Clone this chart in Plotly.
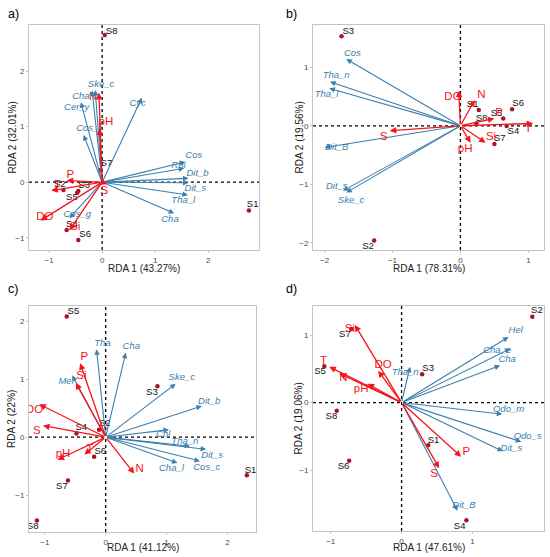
import plotly.graph_objects as go

# ---------------- Panel a ----------------
a_sp_names = ["Ske_c", "Cha", "Cer_y", "Cos_r", "Cyc", "Cos", "Rhi", "Dit_b", "Dit_s", "Tha_l", "Cha", "Cos_g"]
a_sp_x = [-0.13, -0.19, -0.40, -0.35, 0.75, 1.57, 1.55, 1.63, 1.63, 1.62, 1.36, -0.62]
a_sp_y = [1.66, 1.65, 1.44, 0.85, 1.52, 0.365, 0.25, 0.07, -0.01, -0.23, -0.56, -0.65]
a_sp_lx = [-0.02, -0.40, -0.48, -0.25, 0.67, 1.73, 1.44, 1.80, 1.76, 1.53, 1.28, -0.47]
a_sp_ly = [1.76, 1.54, 1.34, 0.96, 1.42, 0.48, 0.29, 0.16, -0.12, -0.34, -0.68, -0.59]
a_env_names = ["N", "pH", "P", "T", "DO", "Si", "S"]
a_env_x = [-0.06, -0.05, -0.67, -0.96, -1.16, -0.62, 0.10]
a_env_y = [1.61, 0.97, 0.03, -0.15, -0.69, -0.87, -0.03]
a_env_lx = [-0.17, 0.07, -0.60, -0.84, -1.08, -0.51, 0.04]
a_env_ly = [1.54, 1.09, 0.13, -0.05, -0.62, -0.81, -0.16]
a_site_names = ["S1", "S2", "S3", "S4", "S5", "S6", "S7", "S8"]
a_site_x = [2.77, -0.73, -0.45, -0.67, -0.47, -0.45, -0.03, 0.05]
a_site_y = [-0.51, -0.14, -0.16, -0.86, -0.19, -1.04, 0.22, 2.65]
a_site_lx = [2.84, -0.80, -0.34, -0.57, -0.57, -0.32, 0.08, 0.18]
a_site_ly = [-0.41, -0.05, -0.07, -0.77, -0.28, -0.95, 0.34, 2.72]

# ---------------- Panel b ----------------
b_sp_names = ["Cos", "Tha_n", "Tha_l", "Dit_B", "Dit_s", "Ske_c"]
b_sp_x = [-1.68, -1.92, -1.93, -2.00, -1.73, -1.68]
b_sp_y = [1.14, 0.75, 0.64, -0.37, -1.11, -1.14]
b_sp_lx = [-1.59, -1.83, -1.97, -1.82, -1.82, -1.61]
b_sp_ly = [1.24, 0.85, 0.53, -0.375, -1.04, -1.27]
b_env_names = ["DO", "N", "P", "T", "Si", "pH", "S"]
b_env_x = [-0.025, 0.21, 0.50, 1.07, 0.37, 0.15, -1.04]
b_env_y = [0.60, 0.44, 0.125, 0.04, -0.29, -0.29, -0.085]
b_env_lx = [-0.11, 0.31, 0.57, 1.00, 0.45, 0.07, -1.13]
b_env_ly = [0.49, 0.52, 0.21, -0.05, -0.19, -0.40, -0.19]
b_site_names = ["S1", "S2", "S3", "S4", "S5", "S6", "S7", "S8"]
b_site_x = [0.27, -1.27, -1.75, 0.68, 0.63, 0.76, 0.50, 0.235]
b_site_y = [0.27, -1.96, 1.53, -0.005, 0.125, 0.28, -0.31, 0.04]
b_site_lx = [0.18, -1.36, -1.65, 0.78, 0.53, 0.85, 0.58, 0.31]
b_site_ly = [0.36, -2.06, 1.61, -0.10, 0.21, 0.375, -0.22, 0.125]

# ---------------- Panel c ----------------
c_sp_names = ["Tha", "Cha", "Mel", "Ske_c", "Dit_b", "Chl", "Tha_n", "Dit_s", "Cha_l", "Cos_c"]
c_sp_x = [-0.15, 0.33, -0.55, 1.15, 1.58, 1.04, 1.385, 1.65, 1.18, 1.55]
c_sp_y = [1.52, 1.46, 1.07, 0.925, 0.54, 0.13, -0.156, -0.21, -0.445, -0.415]
c_sp_lx = [-0.055, 0.42, -0.65, 1.25, 1.70, 0.945, 1.30, 1.75, 1.08, 1.66]
c_sp_ly = [1.62, 1.56, 0.97, 1.03, 0.62, 0.046, -0.07, -0.32, -0.55, -0.53]
c_env_names = ["P", "Si", "DO", "S", "pH", "T", "N"]
c_env_x = [-0.42, -0.49, -1.09, -1.03, -0.79, -0.35, 0.47]
c_env_y = [1.28, 0.94, 0.57, 0.20, -0.39, -0.30, -0.63]
c_env_lx = [-0.35, -0.40, -1.17, -1.13, -0.70, -0.26, 0.56]
c_env_ly = [1.39, 1.05, 0.46, 0.10, -0.29, -0.21, -0.55]
c_site_names = ["S1", "S2", "S3", "S4", "S5", "S6", "S7", "S8"]
c_site_x = [2.32, -0.11, 0.85, -0.48, -0.64, -0.19, -0.62, -1.13]
c_site_y = [-0.66, 0.13, 0.88, 0.064, 2.09, -0.34, -0.75, -1.44]
c_site_lx = [2.38, -0.016, 0.76, -0.40, -0.53, -0.09, -0.72, -1.20]
c_site_ly = [-0.57, 0.23, 0.77, 0.16, 2.17, -0.25, -0.85, -1.54]

# ---------------- Panel d ----------------
d_sp_names = ["Hel", "Cha_e", "Cha", "Tha_n", "Odo_m", "Odo_s", "Dit_s", "Dit_B"]
d_sp_x = [1.51, 1.535, 1.39, 0.12, 1.42, 1.69, 1.43, 0.79]
d_sp_y = [0.97, 0.80, 0.55, 0.53, -0.17, -0.58, -0.72, -1.60]
d_sp_lx = [1.61, 1.35, 1.49, 0.05, 1.51, 1.78, 1.55, 0.88]
d_sp_ly = [1.06, 0.775, 0.63, 0.44, -0.10, -0.51, -0.68, -1.53]
d_env_names = ["Si", "DO", "T", "N", "pH", "P", "S"]
d_env_x = [-0.66, -0.33, -1.02, -0.88, -0.48, 0.84, 0.53]
d_env_y = [1.15, 0.47, 0.53, 0.43, 0.28, -0.80, -0.97]
d_env_lx = [-0.73, -0.26, -1.10, -0.82, -0.57, 0.915, 0.46]
d_env_ly = [1.09, 0.56, 0.61, 0.36, 0.20, -0.73, -1.06]
d_site_names = ["S1", "S2", "S3", "S4", "S5", "S6", "S7", "S8"]
d_site_x = [0.375, 1.845, 0.29, 0.915, -1.09, -0.74, -0.71, -0.915]
d_site_y = [-0.63, 1.27, 0.42, -1.74, 0.54, -0.86, 1.09, -0.12]
d_site_lx = [0.45, 1.91, 0.375, 0.82, -1.15, -0.82, -0.80, -0.99]
d_site_ly = [-0.56, 1.36, 0.50, -1.83, 0.46, -0.95, 1.01, -0.20]

# axis labels and ticks
x_titles = ["RDA 1 (43.27%)", "RDA 1 (78.31%)", "RDA 1 (41.12%)", "RDA 1 (47.61%)"]
y_titles = ["RDA 2 (32.01%)", "RDA 2 (19.56%)", "RDA 2 (22%)", "RDA 2 (19.06%)"]
x_ticks = [[-1, 0, 1, 2], [-2, -1, 0, 1], [-1, 0, 1, 2], [-1, 0, 1]]
y_ticks = [[-1, 0, 1, 2], [-2, -1, 0, 1], [-1, 0, 1, 2], [-1, 0, 1]]
panel_letters = ["a)", "b)", "c)", "d)"]

# ---------------- layout geometry / styles ----------------
W, H = 550, 557
x_ranges = [[-1.38, 2.96], [-2.17, 1.23], [-1.26, 2.47], [-1.25, 2.01]]
y_ranges = [[-1.22, 2.83], [-2.12, 1.72], [-1.64, 2.27], [-1.90, 1.43]]
x_domains = [[29 / W, 259 / W], [313 / W, 544 / W], [29 / W, 256 / W], [313 / W, 544 / W]]
y_domains = [[1 - 250 / H, 1 - 25 / H], [1 - 250 / H, 1 - 25 / H],
             [1 - 532 / H, 1 - 306 / H], [1 - 531 / H, 1 - 306 / H]]
letter_pos = [(6, 14), (284, 14), (6, 289), (284, 289)]
xtitle_y = [268.5, 268.5, 547, 547]
ytitle_x = [12, 299, 12, 298]

BLUE = "#3b7fae"
RED = "#f5141c"
PT = "#a8152a"
FONT = "Liberation Sans, Arial, sans-serif"

panels = [
    (a_sp_names, a_sp_x, a_sp_y, a_sp_lx, a_sp_ly, a_env_names, a_env_x, a_env_y, a_env_lx, a_env_ly,
     a_site_names, a_site_x, a_site_y, a_site_lx, a_site_ly),
    (b_sp_names, b_sp_x, b_sp_y, b_sp_lx, b_sp_ly, b_env_names, b_env_x, b_env_y, b_env_lx, b_env_ly,
     b_site_names, b_site_x, b_site_y, b_site_lx, b_site_ly),
    (c_sp_names, c_sp_x, c_sp_y, c_sp_lx, c_sp_ly, c_env_names, c_env_x, c_env_y, c_env_lx, c_env_ly,
     c_site_names, c_site_x, c_site_y, c_site_lx, c_site_ly),
    (d_sp_names, d_sp_x, d_sp_y, d_sp_lx, d_sp_ly, d_env_names, d_env_x, d_env_y, d_env_lx, d_env_ly,
     d_site_names, d_site_x, d_site_y, d_site_lx, d_site_ly),
]

fig = go.Figure()
annotations = []
shapes = []
layout_axes = {}

for i, p in enumerate(panels):
    (spn, spx, spy, splx, sply, evn, evx, evy, evlx, evly, stn, stx, sty, stlx, stly) = p
    sfx = "" if i == 0 else str(i + 1)
    xref, yref = "x" + sfx, "y" + sfx

    # dotted zero lines
    shapes.append(dict(type="line", xref=xref, yref=yref + " domain", x0=0, x1=0, y0=0, y1=1,
                       line=dict(color="black", width=1.3, dash="dot"), layer="below"))
    shapes.append(dict(type="line", xref=xref + " domain", yref=yref, x0=0, x1=1, y0=0, y1=0,
                       line=dict(color="black", width=1.3, dash="dot"), layer="below"))

    # species arrows
    for xx, yy in zip(spx, spy):
        annotations.append(dict(x=xx, y=yy, ax=0, ay=0, xref=xref, yref=yref, axref=xref, ayref=yref,
                                showarrow=True, arrowhead=2, arrowsize=1.0, arrowwidth=1.1,
                                arrowcolor=BLUE, standoff=0, startstandoff=0, text=""))
    # environmental arrows
    for xx, yy in zip(evx, evy):
        annotations.append(dict(x=xx, y=yy, ax=0, ay=0, xref=xref, yref=yref, axref=xref, ayref=yref,
                                showarrow=True, arrowhead=2, arrowsize=1.0, arrowwidth=1.3,
                                arrowcolor=RED, standoff=0, startstandoff=0, text=""))

    # sites
    fig.add_trace(go.Scatter(x=stx, y=sty, mode="markers", xaxis=xref, yaxis=yref,
                             marker=dict(color=PT, size=4.5), showlegend=False, hoverinfo="skip"))
    fig.add_trace(go.Scatter(x=stlx, y=stly, text=stn, mode="text", xaxis=xref, yaxis=yref,
                             textfont=dict(color="#111111", size=9.5, family=FONT),
                             showlegend=False, hoverinfo="skip"))
    # species labels
    fig.add_trace(go.Scatter(x=splx, y=sply, text=["<i>%s</i>" % s for s in spn], mode="text",
                             xaxis=xref, yaxis=yref,
                             textfont=dict(color=BLUE, size=9.5, family=FONT),
                             showlegend=False, hoverinfo="skip"))
    # env labels
    fig.add_trace(go.Scatter(x=evlx, y=evly, text=evn, mode="text", xaxis=xref, yaxis=yref,
                             textfont=dict(color=RED, size=11.5, family=FONT),
                             showlegend=False, hoverinfo="skip"))

    axis_common = dict(showgrid=False, zeroline=False, showline=True, mirror=True, automargin=False,
                       linecolor="#c4c4c4", linewidth=1, ticks="outside", ticklen=2,
                       tickcolor="#c4c4c4", tickfont=dict(size=8, color="#4d4d4d", family=FONT))
    layout_axes["xaxis" + sfx] = dict(axis_common, domain=x_domains[i], range=x_ranges[i],
                                      tickvals=x_ticks[i], anchor=yref)
    layout_axes["yaxis" + sfx] = dict(axis_common, domain=y_domains[i], range=y_ranges[i],
                                      tickvals=y_ticks[i], anchor=xref)

    # axis titles
    annotations.append(dict(x=(x_domains[i][0] + x_domains[i][1]) / 2, y=1 - xtitle_y[i] / H,
                            xref="paper", yref="paper", text=x_titles[i], showarrow=False,
                            xanchor="center", yanchor="middle",
                            font=dict(size=10, color="#222222", family=FONT)))
    annotations.append(dict(x=ytitle_x[i] / W, y=(y_domains[i][0] + y_domains[i][1]) / 2,
                            xref="paper", yref="paper", text=y_titles[i], showarrow=False,
                            textangle=-90, xanchor="center", yanchor="middle",
                            font=dict(size=10, color="#222222", family=FONT)))

    lx, ly = letter_pos[i]
    annotations.append(dict(x=lx / W, y=1 - ly / H, xref="paper", yref="paper", text=panel_letters[i],
                            showarrow=False, xanchor="left", yanchor="middle",
                            font=dict(size=12.5, color="black", family=FONT)))

fig.update_layout(width=W, height=H, margin=dict(l=0, r=0, t=0, b=0),
                  paper_bgcolor="white", plot_bgcolor="white",
                  annotations=annotations, shapes=shapes, **layout_axes)

fig.write_html("out.html", config={"displayModeBar": False},
               post_script="document.body.style.margin='0';document.body.style.padding='0';")
